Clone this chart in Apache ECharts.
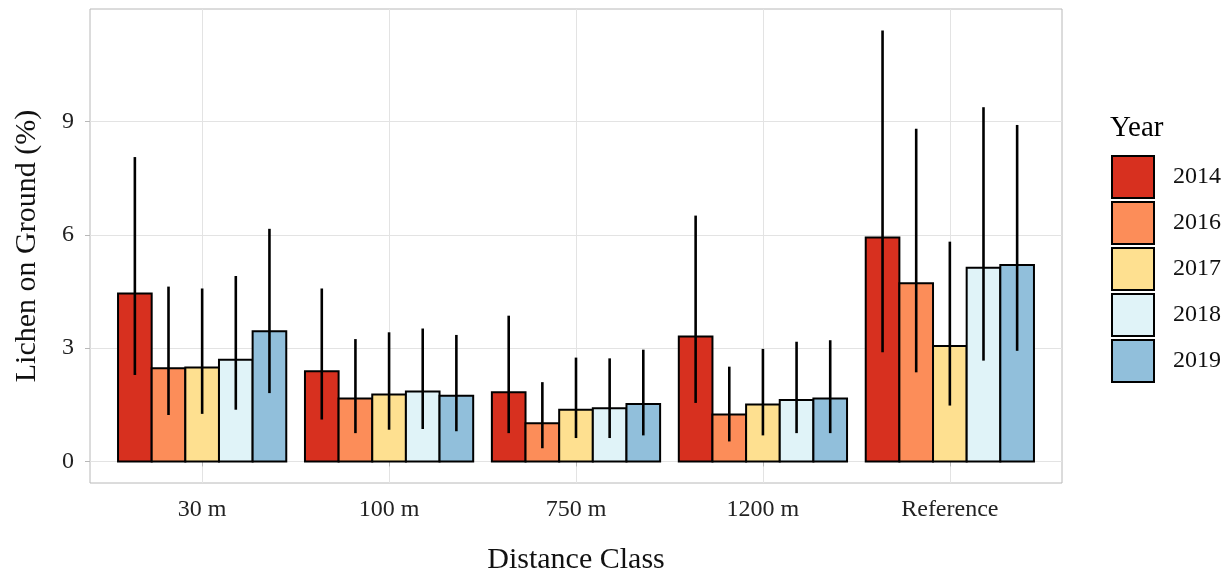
<!DOCTYPE html>
<html>
<head>
<meta charset="utf-8">
<script src="https://cdn.jsdelivr.net/npm/echarts@6/dist/echarts.min.js"></script>
<style>html,body{margin:0;padding:0;background:#fff;}#c{width:1228px;height:573px;}</style>
</head>
<body>
<div id="c"></div>
<script>
const categories = ['30 m', '100 m', '750 m', '1200 m', 'Reference'];
const years = ['2014', '2016', '2017', '2018', '2019'];
const colors = ['#d7301f', '#fc8d59', '#fee090', '#e0f3f8', '#91bfdb'];
const yTicks = [0, 3, 6, 9];

const mean2014 = [4.45, 2.39, 1.83, 3.31, 5.93];
const mean2016 = [2.47, 1.67, 1.01, 1.24, 4.72];
const mean2017 = [2.49, 1.77, 1.37, 1.51, 3.06];
const mean2018 = [2.69, 1.85, 1.41, 1.63, 5.13];
const mean2019 = [3.45, 1.74, 1.52, 1.67, 5.20];

const low2014 = [2.29, 1.11, 0.75, 1.55, 2.89];
const low2016 = [1.23, 0.75, 0.35, 0.53, 2.36];
const low2017 = [1.26, 0.84, 0.62, 0.69, 1.48];
const low2018 = [1.37, 0.86, 0.62, 0.75, 2.67];
const low2019 = [1.81, 0.80, 0.69, 0.75, 2.93];

const high2014 = [8.06, 4.58, 3.86, 6.51, 11.41];
const high2016 = [4.63, 3.24, 2.10, 2.51, 8.81];
const high2017 = [4.58, 3.42, 2.75, 2.98, 5.82];
const high2018 = [4.91, 3.52, 2.73, 3.17, 9.38];
const high2019 = [6.16, 3.35, 2.96, 3.21, 8.91];

const means = [mean2014, mean2016, mean2017, mean2018, mean2019];
const lows = [low2014, low2016, low2017, low2018, low2019];
const highs = [high2014, high2016, high2017, high2018, high2019];

const FONT = 'Liberation Serif';
const nY = years.length;

function renderItem(params, api) {
  const si = params.seriesIndex;
  const x = api.value(0), v = api.value(1), lo = api.value(2), hi = api.value(3);
  const bw = api.size([0.9 / nY, 0])[0];
  const base = api.coord([x, 0]);
  const cx = base[0] + (si - (nY - 1) / 2) * bw;
  const y0 = base[1];
  const yv = api.coord([x, v])[1];
  const ylo = api.coord([x, lo])[1];
  const yhi = api.coord([x, hi])[1];
  return {
    type: 'group',
    children: [
      { type: 'rect', shape: { x: cx - bw / 2, y: yv, width: bw, height: y0 - yv },
        style: { fill: colors[si], stroke: '#000', lineWidth: 2 } },
      { type: 'line', shape: { x1: cx, y1: yhi, x2: cx, y2: ylo },
        style: { stroke: '#000', lineWidth: 2.6 } }
    ]
  };
}

const series = years.map((yr, i) => ({
  name: yr,
  type: 'custom',
  renderItem: renderItem,
  itemStyle: { color: colors[i], borderColor: '#000', borderWidth: 2 },
  encode: { x: 0, y: 1 },
  data: categories.map((c, j) => [j + 1, means[i][j], lows[i][j], highs[i][j]]),
  z: 2 + i
}));

const chart = echarts.init(document.getElementById('c'), null, { renderer: 'canvas' });
chart.setOption({
  backgroundColor: '#fff',
  animation: false,
  title: {
    text: 'Year', left: 1110, top: 114, padding: 0,
    textStyle: { fontFamily: FONT, fontSize: 29, fontWeight: 'normal', color: '#000' }
  },
  legend: {
    orient: 'vertical', left: 1111, top: 155, padding: 0,
    itemWidth: 42, itemHeight: 42, itemGap: 2,
    icon: 'rect',
    textStyle: { fontFamily: FONT, fontSize: 24, color: '#111', padding: [0, 0, 0, 14] },
    data: years
  },
  grid: {
    left: 90, top: 9, width: 972, height: 474,
    outerBoundsMode: 'none', containLabel: false,
    show: true, borderColor: '#b8b8b8', borderWidth: 1, backgroundColor: '#fff'
  },
  xAxis: {
    type: 'value', min: 0.4, max: 5.6,
    name: 'Distance Class', nameLocation: 'middle', nameGap: 62,
    nameTextStyle: { fontFamily: FONT, fontSize: 30, color: '#111' },
    axisLine: { show: false },
    axisTick: { show: true, length: 5, lineStyle: { color: '#b8b8b8' }, customValues: [1, 2, 3, 4, 5] },
    axisLabel: {
      customValues: [1, 2, 3, 4, 5], margin: 15,
      fontFamily: FONT, fontSize: 24, color: '#222',
      formatter: v => categories[Math.round(v) - 1] || ''
    },
    splitLine: { show: true, lineStyle: { color: '#e3e3e3', width: 1 } }
  },
  yAxis: {
    type: 'value', min: -0.5705, max: 11.9805,
    name: 'Lichen on Ground (%)', nameLocation: 'middle', nameGap: 48,
    nameTextStyle: { fontFamily: FONT, fontSize: 30, color: '#111' },
    axisLine: { show: false },
    axisTick: { show: true, length: 5, lineStyle: { color: '#b8b8b8' }, customValues: yTicks },
    axisLabel: { customValues: yTicks, margin: 16, fontFamily: FONT, fontSize: 24, color: '#222' },
    splitLine: { show: true, lineStyle: { color: '#e3e3e3', width: 1 } }
  },
  series: series
});
</script>
</body>
</html>
